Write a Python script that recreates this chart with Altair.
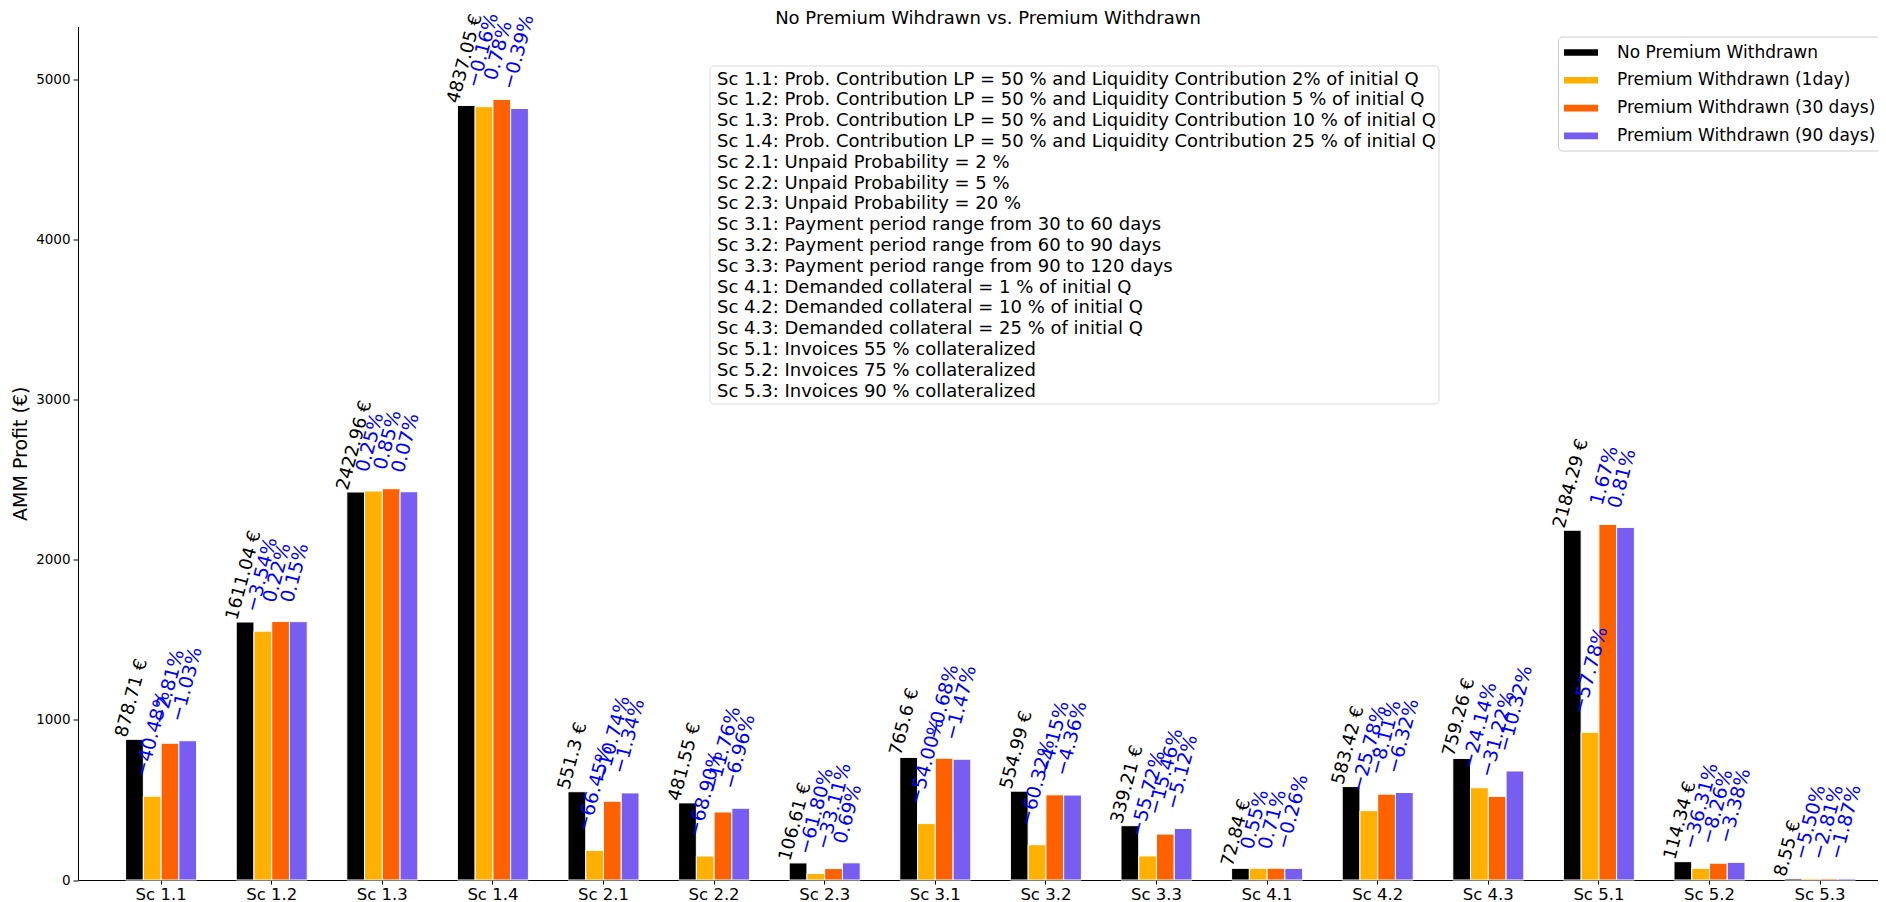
import altair as alt
import pandas as pd

# ---------------- data ----------------
scenarios = ["Sc 1.1", "Sc 1.2", "Sc 1.3", "Sc 1.4", "Sc 2.1", "Sc 2.2", "Sc 2.3",
             "Sc 3.1", "Sc 3.2", "Sc 3.3", "Sc 4.1", "Sc 4.2", "Sc 4.3",
             "Sc 5.1", "Sc 5.2", "Sc 5.3"]

series_names = ["No Premium Withdrawn", "Premium Withdrawn (1day)",
                "Premium Withdrawn (30 days)", "Premium Withdrawn (90 days)"]
series_colors = ["#000000", "#FFB000", "#FE6100", "#785EF0"]

no_premium = [878.71, 1611.04, 2422.96, 4837.05, 551.3, 481.55, 106.61, 765.6,
              554.99, 339.21, 72.84, 583.42, 759.26, 2184.29, 114.34, 8.55]
premium_1day = [523.0, 1554.0, 2429.0, 4829.3, 185.0, 149.8, 40.7, 352.2,
                220.2, 150.2, 73.2, 433.0, 576.0, 922.2, 72.8, 8.08]
premium_30 = [854.0, 1614.6, 2443.6, 4874.8, 492.1, 424.9, 71.3, 760.4,
              531.9, 286.8, 73.4, 536.1, 522.2, 2220.8, 104.9, 8.31]
premium_90 = [869.7, 1613.5, 2424.7, 4818.2, 543.9, 448.1, 107.3, 754.3,
              530.8, 321.8, 72.65, 546.5, 680.9, 2202.0, 110.5, 8.39]

pct_1day = [-40.48, -3.54, 0.25, -0.16, -66.45, -68.90, -61.80, -54.00,
            -60.32, -55.72, 0.55, -25.78, -24.14, -57.78, -36.31, -5.50]
pct_30 = [-2.81, 0.22, 0.85, 0.78, -10.74, -11.76, -33.11, -0.68,
          -4.15, -15.46, 0.71, -8.11, -31.22, 1.67, -8.26, -2.81]
pct_90 = [-1.03, 0.15, 0.07, -0.39, -1.34, -6.96, 0.69, -1.47,
          -4.36, -5.12, -0.26, -6.32, -10.32, 0.81, -3.38, -1.87]

chart_title = "No Premium Wihdrawn vs. Premium Withdrawn"

info_lines = [
    "Sc 1.1: Prob. Contribution LP = 50 % and Liquidity Contribution 2% of initial Q",
    "Sc 1.2: Prob. Contribution LP = 50 % and Liquidity Contribution 5 % of initial Q",
    "Sc 1.3: Prob. Contribution LP = 50 % and Liquidity Contribution 10 % of initial Q",
    "Sc 1.4: Prob. Contribution LP = 50 % and Liquidity Contribution 25 % of initial Q",
    "Sc 2.1: Unpaid Probability = 2 %",
    "Sc 2.2: Unpaid Probability = 5 %",
    "Sc 2.3: Unpaid Probability = 20 %",
    "Sc 3.1: Payment period range from 30 to 60 days",
    "Sc 3.2: Payment period range from 60 to 90 days",
    "Sc 3.3: Payment period range from 90 to 120 days",
    "Sc 4.1: Demanded collateral = 1 % of initial Q",
    "Sc 4.2: Demanded collateral = 10 % of initial Q",
    "Sc 4.3: Demanded collateral = 25 % of initial Q",
    "Sc 5.1: Invoices 55 % collateralized",
    "Sc 5.2: Invoices 75 % collateralized",
    "Sc 5.3: Invoices 90 % collateralized",
]


def fmt_pct(v):
    return f"{v:.2f}%".replace("-", "\u2212")


rows = []
values_by_series = [no_premium, premium_1day, premium_30, premium_90]
pcts_by_series = [None, pct_1day, pct_30, pct_90]
for si, name in enumerate(series_names):
    for ci, sc in enumerate(scenarios):
        v = values_by_series[si][ci]
        if si == 0:
            lab = f"{v} \u20ac"
        else:
            lab = fmt_pct(pcts_by_series[si][ci])
        rows.append({"scenario": sc, "series": name, "value": v,
                     "label": lab, "is_base": si == 0})
df = pd.DataFrame(rows)

FONT = "DejaVu Sans"

x_enc = alt.X("scenario:N", sort=scenarios,
              scale=alt.Scale(paddingInner=0.358, paddingOuter=0.3165, align=0.68),
              axis=alt.Axis(title=None, labelAngle=0, labelFontSize=16.5, labelColor="black",
                            domainColor="black", tickColor="black", tickSize=4,
                            labelPadding=2, grid=False, labelFont=FONT))
xoff_enc = alt.XOffset("series:N", sort=series_names,
                       scale=alt.Scale(paddingInner=0, paddingOuter=0))
y_enc = alt.Y("value:Q", scale=alt.Scale(domain=[0, 5330], nice=False),
              axis=alt.Axis(title="AMM Profit (\u20ac)", values=[0, 1000, 2000, 3000, 4000, 5000],
                            format="d", labelFontSize=13.5, labelColor="black",
                            titleFontSize=19, titleFontWeight="normal", titleColor="black",
                            titleFont=FONT, labelFont=FONT,
                            domainColor="black", tickColor="black", tickSize=5,
                            labelPadding=3, titlePadding=5, grid=False))

base = alt.Chart(df)

bars = base.mark_bar(stroke="white", strokeWidth=1).encode(
    x=x_enc,
    xOffset=xoff_enc,
    y=y_enc,
    color=alt.Color("series:N", sort=series_names,
                    scale=alt.Scale(domain=series_names, range=series_colors),
                    legend=alt.Legend(title=None, orient="none", legendX=1480, legendY=10,
                                      symbolType="M-1,-0.33H2.4V0.33H-1Z", symbolSize=400,
                                      symbolStrokeWidth=0, symbolOpacity=1,
                                      labelFontSize=17, labelFont=FONT, labelColor="black",
                                      labelOffset=33, padding=6, rowPadding=9.8,
                                      strokeColor="#cccccc", fillColor="white",
                                      cornerRadius=4, labelLimit=400)),
)

label_base = base.transform_filter("datum.is_base").mark_text(
    angle=285, align="left", baseline="middle", dx=-1, dy=-13,
    fontSize=18, font=FONT, color="black"
).encode(x=x_enc, xOffset=xoff_enc, y=y_enc, text="label:N")

label_pct = base.transform_filter("!datum.is_base").mark_text(
    angle=285, align="left", baseline="middle", dx=16, dy=-16,
    fontSize=19, font=FONT, color="#0000FF"
).encode(x=x_enc, xOffset=xoff_enc, y=y_enc, text="label:N")

one = pd.DataFrame({"a": [0]})
info_box = alt.Chart(one).mark_rect(
    fill="white", stroke="#d9d9d9", strokeWidth=1, cornerRadius=4
).encode(x=alt.value(632), x2=alt.value(1361), y=alt.value(39.5), y2=alt.value(377.5))

info_text = alt.Chart(one).mark_text(
    align="left", baseline="top", fontSize=18, lineHeight=20.8, font=FONT, color="black"
).encode(x=alt.value(639), y=alt.value(44), text=alt.value(info_lines))

title_text = alt.Chart(one).mark_text(
    align="center", baseline="middle", fontSize=18, font=FONT, color="black"
).encode(x=alt.value(910), y=alt.value(-8), text=alt.value(chart_title))

chart = alt.layer(bars, label_base, label_pct, info_box, info_text, title_text).properties(
    width=1800, height=853.5,
    autosize=alt.AutoSizeParams(type="none"),
    padding={"left": 70, "top": 18.5, "right": 0, "bottom": 22},
    background="white",
).configure_view(stroke=None)

chart.save("out.html", embed_options={"renderer": "svg", "actions": False})
